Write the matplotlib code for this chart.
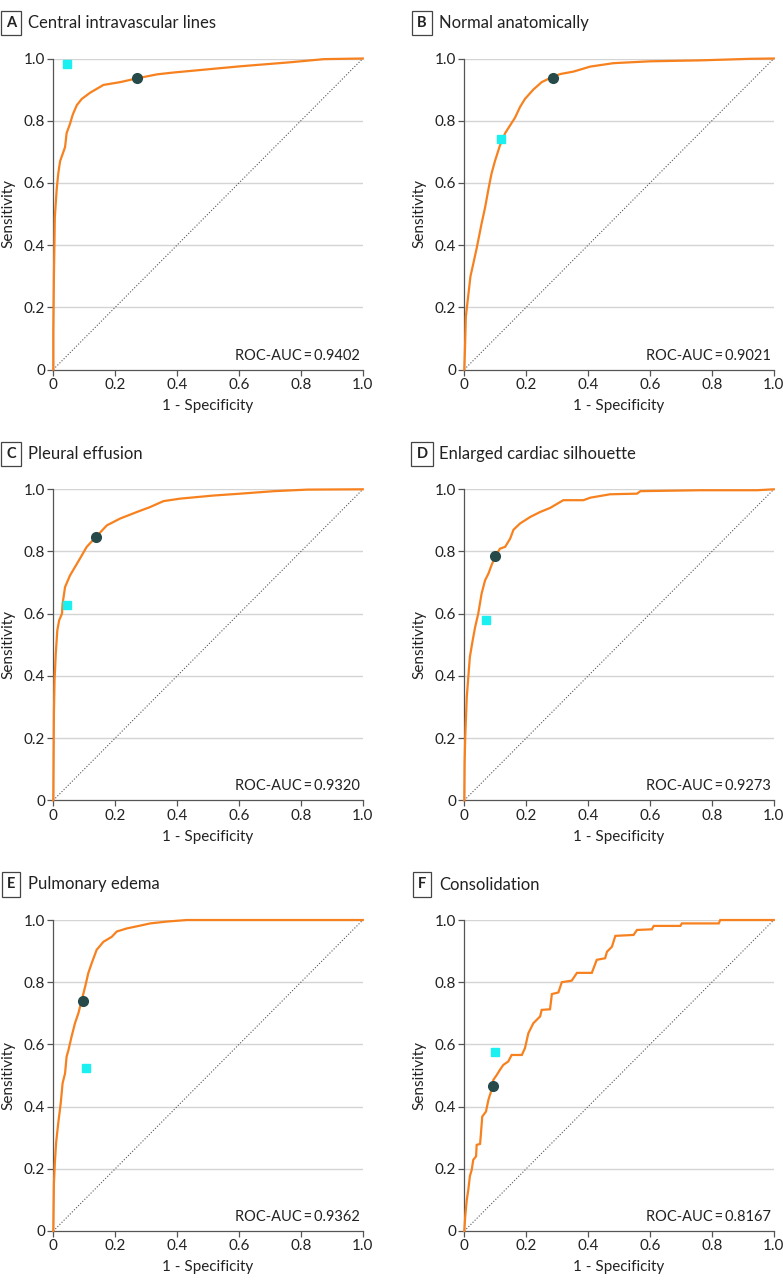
import matplotlib
matplotlib.use("Agg")
import matplotlib.pyplot as plt

plt.rcParams['font.family'] = ['Lato', 'DejaVu Sans']

# panel titles
letters = ['A', 'B', 'C', 'D', 'E', 'F']
titles = ['Central intravascular lines', 'Normal anatomically', 'Pleural effusion',
          'Enlarged cardiac silhouette', 'Pulmonary edema', 'Consolidation']
auc_values = ['0.9402', '0.9021', '0.9320', '0.9273', '0.9362', '0.8167']

# ROC curves
fpr_a = [0, 0.0, 0.002, 0.005, 0.011, 0.016, 0.022, 0.038, 0.043, 0.054, 0.063, 0.076, 0.092,
         0.119, 0.162, 0.216, 0.27, 0.335, 0.389, 0.497, 0.605, 0.767, 0.875, 1.0]
tpr_a = [0, 0.12, 0.30, 0.49, 0.58, 0.63, 0.67, 0.715, 0.76, 0.79, 0.82, 0.85, 0.87,
         0.89, 0.915, 0.924, 0.936, 0.949, 0.955, 0.965, 0.975, 0.988, 0.998, 1.0]

fpr_b = [0, 0.002, 0.005, 0.013, 0.020, 0.029, 0.040, 0.056, 0.067, 0.078, 0.088, 0.099, 0.115,
         0.132, 0.148, 0.164, 0.180, 0.196, 0.223, 0.250, 0.283, 0.310, 0.353, 0.407, 0.482,
         0.601, 0.763, 0.924, 1.0]
tpr_b = [0, 0.06, 0.17, 0.24, 0.30, 0.34, 0.39, 0.47, 0.52, 0.58, 0.63, 0.67, 0.72,
         0.76, 0.785, 0.81, 0.844, 0.87, 0.90, 0.924, 0.94, 0.95, 0.958, 0.974, 0.985,
         0.991, 0.994, 0.999, 1.0]

fpr_c = [0, 0.002, 0.004, 0.008, 0.013, 0.019, 0.028, 0.030, 0.038, 0.054, 0.070, 0.086, 0.108,
         0.138, 0.173, 0.216, 0.270, 0.313, 0.356, 0.410, 0.518, 0.605, 0.713, 0.821, 1.0]
tpr_c = [0, 0.279, 0.386, 0.472, 0.547, 0.579, 0.60, 0.632, 0.686, 0.723, 0.75, 0.777, 0.815,
         0.847, 0.884, 0.906, 0.927, 0.943, 0.962, 0.97, 0.98, 0.986, 0.994, 0.999, 1.0]

fpr_d = [0, 0.001, 0.003, 0.008, 0.013, 0.018, 0.027, 0.035, 0.045, 0.056, 0.067, 0.078, 0.088,
         0.099, 0.115, 0.132, 0.148, 0.159, 0.180, 0.213, 0.245, 0.277, 0.320, 0.385, 0.407,
         0.471, 0.558, 0.569, 0.763, 0.946, 1.0]
tpr_d = [0, 0.118, 0.204, 0.332, 0.397, 0.461, 0.514, 0.557, 0.60, 0.665, 0.707, 0.729, 0.756,
         0.782, 0.809, 0.815, 0.841, 0.870, 0.89, 0.911, 0.927, 0.94, 0.965, 0.965, 0.973,
         0.984, 0.986, 0.994, 0.997, 0.997, 1.0]

fpr_e = [0, 0.002, 0.005, 0.009, 0.016, 0.024, 0.030, 0.038, 0.043, 0.049, 0.059, 0.070, 0.081,
         0.092, 0.103, 0.113, 0.124, 0.140, 0.162, 0.189, 0.205, 0.238, 0.281, 0.313, 0.367,
         0.432, 1.0]
tpr_e = [0, 0.154, 0.218, 0.283, 0.347, 0.411, 0.475, 0.507, 0.561, 0.582, 0.625, 0.668, 0.70,
         0.743, 0.786, 0.829, 0.861, 0.904, 0.93, 0.946, 0.963, 0.973, 0.982, 0.989, 0.995,
         1.0, 1.0]

fpr_f = [0, 0.003, 0.008, 0.013, 0.018, 0.024, 0.029, 0.038, 0.040, 0.051, 0.053, 0.058, 0.070,
         0.078, 0.088, 0.094, 0.105, 0.115, 0.126, 0.142, 0.153, 0.186, 0.196, 0.207, 0.223,
         0.245, 0.250, 0.277, 0.283, 0.304, 0.315, 0.347, 0.364, 0.412, 0.428, 0.455, 0.461,
         0.477, 0.488, 0.547, 0.558, 0.606, 0.612, 0.698, 0.703, 0.822, 0.827, 1.0]
tpr_f = [0, 0.047, 0.10, 0.133, 0.176, 0.197, 0.229, 0.24, 0.277, 0.28, 0.304, 0.368, 0.384,
         0.422, 0.454, 0.486, 0.502, 0.518, 0.534, 0.545, 0.566, 0.566, 0.588, 0.636, 0.668,
         0.69, 0.711, 0.713, 0.762, 0.767, 0.80, 0.805, 0.83, 0.83, 0.872, 0.877, 0.898,
         0.914, 0.949, 0.952, 0.968, 0.970, 0.981, 0.981, 0.989, 0.989, 1.0, 1.0]

curves_fpr = [fpr_a, fpr_b, fpr_c, fpr_d, fpr_e, fpr_f]
curves_tpr = [tpr_a, tpr_b, tpr_c, tpr_d, tpr_e, tpr_f]

# operating points: model (circle) and radiologist (square)
circle_x = [0.27, 0.285, 0.138, 0.10, 0.097, 0.092]
circle_y = [0.936, 0.936, 0.847, 0.784, 0.739, 0.465]
square_x = [0.044, 0.118, 0.043, 0.07, 0.107, 0.10]
square_y = [0.981, 0.742, 0.627, 0.581, 0.524, 0.574]

W, H = 783, 1286
fig = plt.figure(figsize=(W / 100, H / 100), dpi=100)

lefts = [53.3, 464.3]
width = 309.5
tops = [58.5, 489.3, 920.0]
height = 311.0

orange = '#F7811E'
for i in range(6):
    r, c = divmod(i, 2)
    x0, y0 = lefts[c], tops[r]
    ax = fig.add_axes([x0 / W, 1 - (y0 + height) / H, width / W, height / H])
    ax.set_xlim(0, 1)
    ax.set_ylim(0, 1)
    ax.set_xticks([0, 0.2, 0.4, 0.6, 0.8, 1.0])
    ax.set_xticklabels(['0', '0.2', '0.4', '0.6', '0.8', '1.0'])
    ax.set_yticks([0, 0.2, 0.4, 0.6, 0.8, 1.0])
    ax.set_yticklabels(['0', '0.2', '0.4', '0.6', '0.8', '1.0'])
    for yv in [0.2, 0.4, 0.6, 0.8, 1.0]:
        ax.axhline(yv, color='#d4d4d4', lw=1.0, zorder=0)
    for s in ['top', 'right']:
        ax.spines[s].set_visible(False)
    for s in ['left', 'bottom']:
        ax.spines[s].set_color('#555555')
        ax.spines[s].set_linewidth(0.9)
    ax.tick_params(length=4, width=0.9, color='#555555', labelsize=11, pad=2,
                   labelcolor='#222222')
    ax.plot([0, 1], [0, 1], ls=':', color='#555555', lw=0.8, zorder=1)
    ax.plot(curves_fpr[i], curves_tpr[i], color=orange, lw=1.6, zorder=3,
            clip_on=False, solid_joinstyle='miter')
    ax.plot(circle_x[i], circle_y[i], 'o', color='#264A4A', ms=7, zorder=5, clip_on=False)
    ax.plot(square_x[i], square_y[i], 's', color='#1BF0F0', ms=6, zorder=5, clip_on=False)
    ax.text(0.99, 0.045, 'ROC-AUC\u2009=\u2009' + auc_values[i], ha='right', va='center',
            fontsize=10.5, color='#222222', transform=ax.transAxes)
    ax.set_xlabel('1 - Specificity', fontsize=11, color='#222222', labelpad=5)
    ax.set_ylabel('Sensitivity', fontsize=11, color='#222222', labelpad=6)

    # panel letter and title
    bx = 11 if c == 0 else 422
    ty = y0 - 35.5
    fig.text(bx / W, 1 - ty / H, letters[i], ha='center', va='center', fontsize=10.5,
             fontweight='bold', color='#222222',
             bbox=dict(boxstyle='square,pad=0.35', fc='white', ec='#444444', lw=0.9))
    fig.text((bx + 17) / W, 1 - ty / H, titles[i], ha='left', va='center',
             fontsize=12, color='#222222')

fig.savefig('out.png', dpi=100)
